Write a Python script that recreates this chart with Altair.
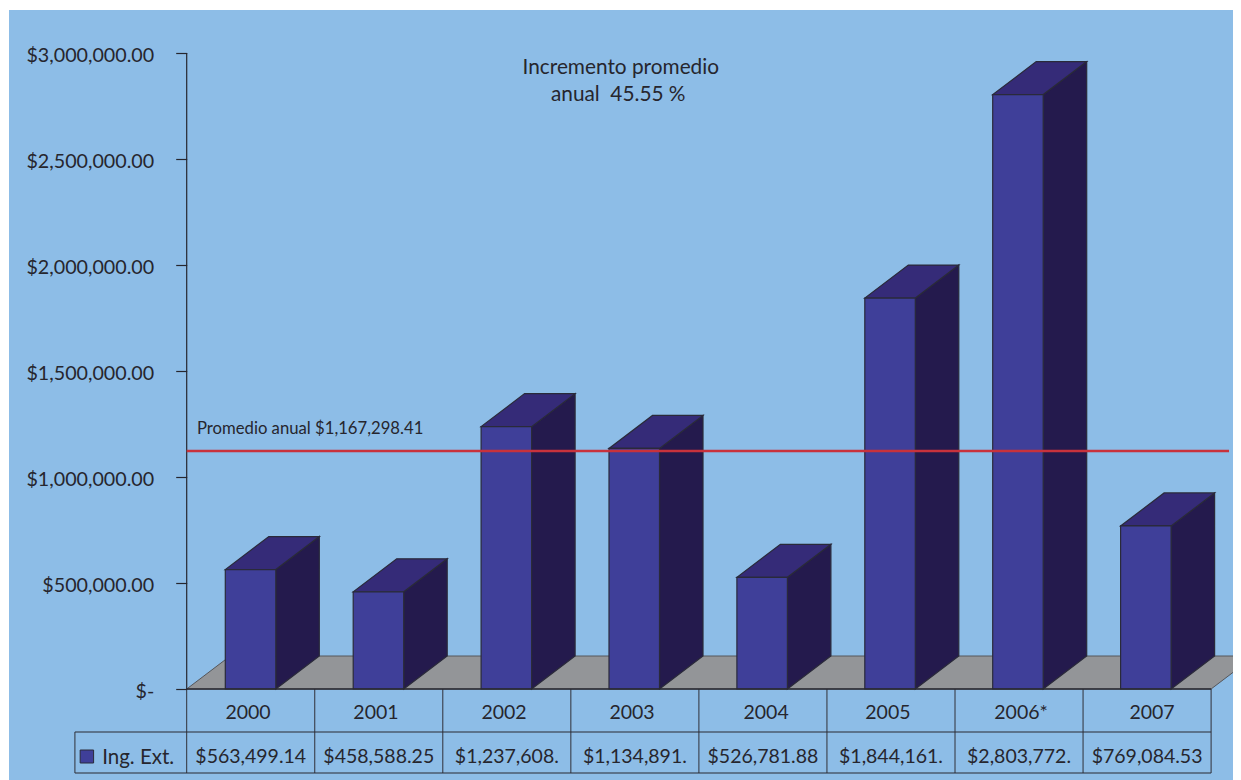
import altair as alt
import pandas as pd

years = ["2000", "2001", "2002", "2003", "2004", "2005", "2006*", "2007"]
year_centers = [0.479, 1.478, 2.478, 3.478, 4.525, 5.476, 6.516, 7.539]
values = [563499.14, 458588.25, 1237608, 1134891, 526781.88, 1844161, 2803772, 769084.53]
table_labels = ["$563,499.14", "$458,588.25", "$1,237,608.", "$1,134,891.",
                "$526,781.88", "$1,844,161.", "$2,803,772.", "$769,084.53"]
average_drawn = 1122600
average_text = "Promedio anual $1,167,298.41"
title_lines = ["Incremento promedio", "anual\u00a0\u00a045.55 %"]
series_name = "Ing. Ext."
y_ticks = [0, 500000, 1000000, 1500000, 2000000, 2500000, 3000000]

W, H = 1225, 772
FONT = "Lato"
INK = "#26262e"
BG = "#8dbde7"
FRONT = "#3f3f99"
SIDE = "#241a4d"
TOP = "#352b78"
FLOOR = "#939598"
EDGE = "#2a2a3a"
RED = "#c8323c"

# geometry expressed in scale units (category steps, dollars)
STEP = 128.05
ORIGIN = 186.7 - 8          # chart px of the y axis
PX_M = 212 / 1e6            # px per dollar
ZERO = 689 - 8              # chart px of value 0
BAR_IN = 38.6 / STEP
BAR_W = 50.5 / STEP
DEP_X = 43.5 / STEP
DEP_Y = 33 / PX_M

x_scale = alt.Scale(domain=[-ORIGIN / STEP, (W - ORIGIN) / STEP], range=[0, W], nice=False, zero=False)
y_scale = alt.Scale(domain=[(ZERO - H) / PX_M, ZERO / PX_M], range=[H, 0], nice=False, zero=False)
X = alt.X("x:Q", scale=x_scale, axis=None)
Y = alt.Y("y:Q", scale=y_scale, axis=None)
Y2 = alt.Y2("y2:Q")


def px(v):
    return v - 8


fronts, sides, tops = [], [], []
for i, v in enumerate(values):
    x0 = i + BAR_IN - i * 0.15 / STEP
    x1 = x0 + BAR_W
    fronts.append({"x": x0, "x2": x1, "y": 0, "y2": v})
    sides += [
        {"b": i, "x": x1, "y": 0, "y2": v},
        {"b": i, "x": x1 + DEP_X, "y": DEP_Y, "y2": v + DEP_Y},
    ]
    tops += [
        {"b": i, "x": x0, "y": v, "y2": v},
        {"b": i, "x": x0 + DEP_X, "y": v, "y2": v + DEP_Y},
        {"b": i, "x": x1, "y": v, "y2": v + DEP_Y},
        {"b": i, "x": x1 + DEP_X, "y": v + DEP_Y, "y2": v + DEP_Y},
    ]

floor = pd.DataFrame([
    {"x": 0, "y": 0, "y2": 0},
    {"x": DEP_X, "y": 0, "y2": DEP_Y},
    {"x": 8, "y": 0, "y2": DEP_Y},
    {"x": 8 + DEP_X, "y": DEP_Y, "y2": DEP_Y},
])

bg = alt.Chart(pd.DataFrame({"a": [0]})).mark_rect(color=BG).encode(
    x=alt.value(1), x2=alt.value(W), y=alt.value(2), y2=alt.value(H)
)

axis_layer = alt.Chart(pd.DataFrame({"y": y_ticks})).mark_point(opacity=0).encode(
    y=alt.Y("y:Q", scale=y_scale, axis=alt.Axis(
        values=y_ticks, title=None, domain=False, grid=False, offset=-ORIGIN, zindex=1,
        tickSize=11, tickColor=INK, tickWidth=1.2, labelPadding=22, labelOffset=2,
        labelFont=FONT, labelFontSize=19.7, labelColor=INK, labelFontWeight=400,
        labelExpr="datum.value === 0 ? '$-' : format(datum.value, '$,.2f')",
    )),
)

floor_layer = alt.Chart(floor).mark_area(color=FLOOR, stroke="#55565a", strokeWidth=1, opacity=1, orient="vertical").encode(
    x=X, y=Y, y2=Y2
)
side_layer = alt.Chart(pd.DataFrame(sides)).mark_area(color=SIDE, stroke=EDGE, strokeWidth=1.2, opacity=1, orient="vertical").encode(
    x=X, y=Y, y2=Y2, detail="b:N"
)
top_layer = alt.Chart(pd.DataFrame(tops)).mark_area(color=TOP, stroke=EDGE, strokeWidth=1.2, opacity=1, orient="vertical").encode(
    x=X, y=Y, y2=Y2, detail="b:N"
)
front_layer = alt.Chart(pd.DataFrame(fronts)).mark_rect(color=FRONT, stroke=EDGE, strokeWidth=1.2).encode(
    x=X, x2=alt.X2("x2:Q"), y=Y, y2=Y2
)

# y axis line, zero line
axis_line = alt.Chart(pd.DataFrame({"x": [0], "y": [0], "y2": [3000000]})).mark_rule(color=INK, strokeWidth=1.2).encode(
    x=X, y=Y, y2=Y2
)
avg_rule = alt.Chart(pd.DataFrame({"x": [0], "x2": [8.14], "y": [average_drawn]})).mark_rule(
    color=RED, strokeWidth=2.4
).encode(x=X, x2=alt.X2("x2:Q"), y=Y)
avg_label = alt.Chart(pd.DataFrame({"x": [0.08], "y": [average_drawn + 105000], "t": [average_text]})).mark_text(
    align="left", baseline="middle", font=FONT, fontSize=16.7, color=INK
).encode(x=X, y=Y, text="t:N")

title_df = pd.DataFrame({"x": [3.39, 3.37], "y": [2931000, 2802000], "t": title_lines})
title_layer = alt.Chart(title_df).mark_text(
    align="center", baseline="middle", font=FONT, fontSize=20.8, color=INK
).encode(x=X, y=Y, text="t:N")

# data table
ROW1 = px(732)
ROW2 = px(773)
vert = pd.DataFrame({"x": [float(i) for i in range(9)]})
table_v = alt.Chart(vert).mark_rule(color="#303038", strokeWidth=1).encode(
    x=X, y=alt.value(px(689)), y2=alt.value(ROW2)
)


def h_rule(x_start, row, width):
    return alt.Chart(pd.DataFrame({"x": [x_start], "x2": [8.0]})).mark_rule(
        color="#2a2a32", strokeWidth=width
    ).encode(x=X, x2=alt.X2("x2:Q"), y=alt.value(row))


box_left = alt.Chart(pd.DataFrame({"x": [-0.873]})).mark_rule(color="#303038", strokeWidth=1).encode(
    x=X, y=alt.value(ROW1), y2=alt.value(ROW2)
)
year_cells = pd.DataFrame({"x": year_centers, "year": years})
val_cells = pd.DataFrame({"x": [i + 0.5 for i in range(8)], "val": table_labels})
year_text = alt.Chart(year_cells).mark_text(font=FONT, fontSize=19.5, color=INK, align="center", baseline="middle").encode(
    x=X, y=alt.value(px(712.5)), text="year:N"
)
val_text = alt.Chart(val_cells).mark_text(font=FONT, fontSize=19.5, color=INK, align="center", baseline="middle").encode(
    x=X, y=alt.value(px(757)), text="val:N"
)
swatch = alt.Chart(pd.DataFrame({"x": [-0.832], "x2": [-0.727]})).mark_rect(
    color=FRONT, stroke=EDGE, strokeWidth=1
).encode(x=X, x2=alt.X2("x2:Q"), y=alt.value(px(750)), y2=alt.value(px(763)))
series_text = alt.Chart(pd.DataFrame({"x": [-0.66], "t": [series_name]})).mark_text(
    font=FONT, fontSize=20.5, color=INK, align="left", baseline="middle"
).encode(x=X, y=alt.value(px(758)), text="t:N")

chart = alt.layer(
    bg, floor_layer, axis_layer, side_layer, top_layer, front_layer, axis_line,
    avg_rule, avg_label, title_layer, table_v,
    h_rule(0.0, px(689), 1.6), h_rule(-0.873, ROW1, 1.2), h_rule(-0.873, ROW2, 1.2),
    box_left, year_text, val_text, swatch, series_text,
).properties(
    width=W, height=H, padding=0, autosize=alt.AutoSizeParams(type="none"),
    background="white",
).resolve_scale(x="shared", y="shared").resolve_axis(y="independent").configure_view(stroke=None)

chart.save("out.html", embed_options={"renderer": "svg", "actions": False})
